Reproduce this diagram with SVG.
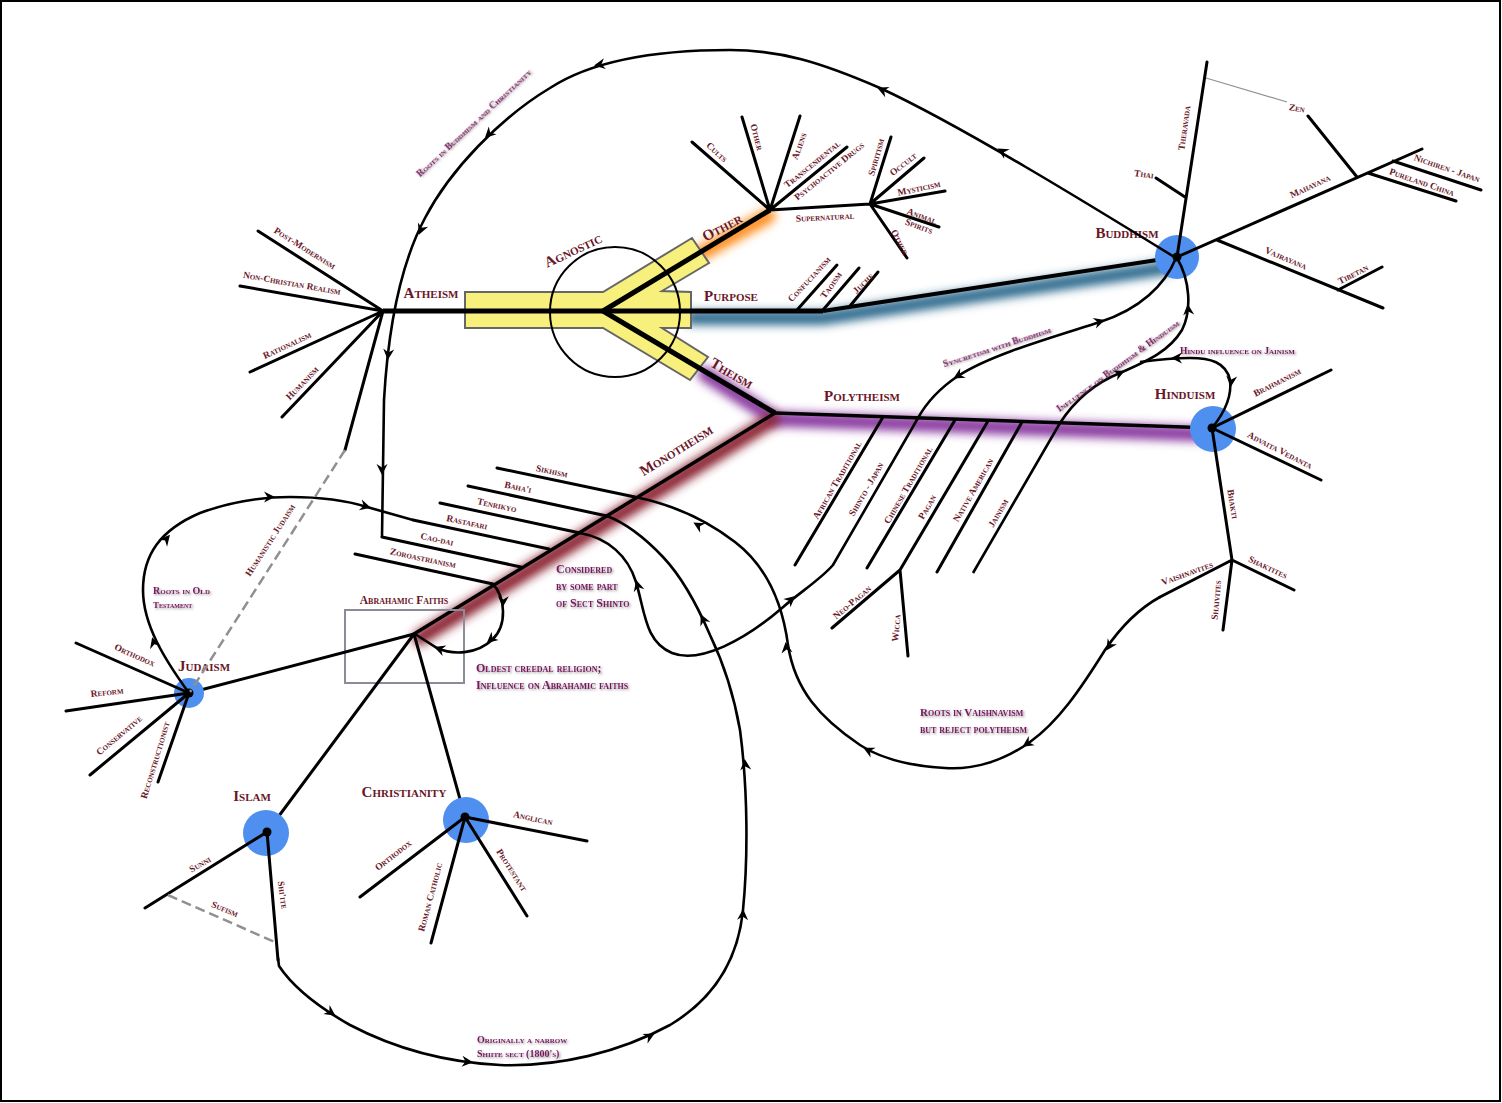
<svg xmlns="http://www.w3.org/2000/svg" width="1502" height="1103" viewBox="0 0 1502 1103">
<defs>
<filter id="glow" x="-30%" y="-60%" width="160%" height="220%"><feGaussianBlur stdDeviation="5"/></filter>
<filter id="sh" x="-10%" y="-40%" width="120%" height="180%"><feDropShadow dx="1.3" dy="1.3" stdDeviation="0.9" flood-color="#444" flood-opacity="0.6"/></filter>
<path id="ah" d="M3,0 L-8,-5.5 L-4.5,0 L-8,5.5 Z"/>
</defs>
<style>
.b{fill:none;stroke:#000;stroke-width:3;stroke-linecap:round}
.t{fill:none;stroke:#000;stroke-width:5}
.c{fill:none;stroke:#000;stroke-width:2.6}
.d{fill:none;stroke:#909090;stroke-width:2.5;stroke-dasharray:10 5}
.g{fill:none;stroke:#909090;stroke-width:1.2}
.l{font-family:"Liberation Serif",serif;font-variant:small-caps;font-weight:bold;fill:#6a1628;font-size:9.5px;text-anchor:middle}
.m{font-size:15px}
.a{font-family:"Liberation Serif",serif;font-variant:small-caps;font-weight:bold;fill:#7a1460;font-size:10px;filter:url(#sh)}
.a12{font-size:12px}
.hub{fill:#4f8ff0}
.gl{fill:none;filter:url(#glow);stroke-linecap:round}
</style>
<rect x="0" y="0" width="1502" height="1103" fill="#fff"/>
<rect x="1" y="1" width="1499" height="1100" fill="none" stroke="#000" stroke-width="2"/>

<g id="glows">
<path class="gl" d="M388,314 L470,314" stroke="#5fe05f" stroke-width="14"/>
<path class="gl" d="M700,254 L768,216" stroke="#ff9020" stroke-width="15"/>
<path class="gl" d="M692,318 L823,318 L1165,268" stroke="#2d6a8e" stroke-width="14"/>
<path class="gl" d="M705,374 L775,419 L1200,434" stroke="#8a3aa0" stroke-width="15"/>
<path class="gl" d="M772,420 L420,638" stroke="#8c2535" stroke-width="15"/>
</g>

<g id="agnostic">
<polygon points="465,292 603,292 692,238 709,263 662,291 691,292 691,328 662,328 708,357 690,380 603,328 465,328" fill="#f8f07c" stroke="#666" stroke-width="2"/>
<circle cx="615" cy="312" r="65" fill="none" stroke="#000" stroke-width="2"/>
<text class="l m" transform="translate(573,250) rotate(-25)" dy=".35em">Agnostic</text>
</g>

<g id="trunk">
<path class="t" d="M383,311 L823,311"/>
<path class="t" d="M603,311 L770,210"/>
<path class="t" d="M603,311 L775,413"/>
</g>

<g id="atheism">
<path class="b" d="M383,311 L258,231 M383,311 L240,286 M383,311 L250,372 M383,311 L282,417 M383,311 L345,450"/>
<text class="l m" x="431" y="298">Atheism</text>
<text class="l" transform="translate(305,248) rotate(32)" dy=".35em">Post-Modernism</text>
<text class="l" transform="translate(292,283) rotate(10)" dy=".35em">Non-Christian Realism</text>
<text class="l" transform="translate(287,345) rotate(-25)" dy=".35em">Rationalism</text>
<text class="l" transform="translate(302,383) rotate(-46)" dy=".35em">Humanism</text>
</g>

<g id="other">
<path class="b" d="M770,210 L692,142 M770,210 L742,117 M770,210 L800,116 M770,210 L847,147 M770,210 L870,204 M870,204 L891,137 M870,204 L924,158 M870,204 L945,191 M870,204 L939,227 M870,204 L907,258"/>
<text class="l m" transform="translate(722,227) rotate(-28)" dy=".35em">Other</text>
<text class="l" transform="translate(717,152) rotate(42)" dy=".35em">Cults</text>
<text class="l" transform="translate(757,137) rotate(75)" dy=".35em">Other</text>
<text class="l" transform="translate(799,146) rotate(-70)" dy=".35em">Aliens</text>
<text class="l" transform="translate(812,164) rotate(-39)" dy=".35em">Transcendental</text>
<text class="l" transform="translate(829,171) rotate(-39)" dy=".35em">Psychoactive Drugs</text>
<text class="l" transform="translate(825,217) rotate(-3)" dy=".35em">Supernatural</text>
<text class="l" transform="translate(876,157) rotate(-74)" dy=".35em">Spiritism</text>
<text class="l" transform="translate(903,164) rotate(-38)" dy=".35em">Occult</text>
<text class="l" transform="translate(919,188) rotate(-12)" dy=".35em">Mysticism</text>
<text class="l" transform="translate(922,216) rotate(20)" dy=".35em">Animal</text>
<text class="l" transform="translate(919,226) rotate(20)" dy=".35em">Spirits</text>
<text class="l" transform="translate(900,242) rotate(63)" dy=".35em">Other</text>
</g>

<g id="purpose">
<path class="t" d="M823,311 L1177,257" style="stroke-width:4"/>
<path class="b" d="M797,310 L837,265 M823,310 L859,268 M850,306 L878,272"/>
<text class="l m" x="731" y="301">Purpose</text>
<text class="l" transform="translate(809,279) rotate(-47)" dy=".35em">Confucianism</text>
<text class="l" transform="translate(831,285) rotate(-55)" dy=".35em">Taoism</text>
<text class="l" transform="translate(863,283) rotate(-45)" dy=".35em">Juche</text>
</g>

<g id="buddhism">
<circle class="hub" cx="1177" cy="257" r="22"/>
<path class="b" d="M1177,257 L1207,62 M1156,178 L1185,197 M1308,116 L1357,177 M1177,257 L1422,149 M1393,161 L1481,190 M1368,173 L1456,201 M1217,240 L1383,308 M1338,290 L1382,267"/>
<circle cx="1177" cy="257" r="4.5"/>
<text class="l m" x="1127" y="238">Buddhism</text>
<text class="l" transform="translate(1184,128) rotate(-82)" dy=".35em">Theravada</text>
<text class="l" transform="translate(1144,174) rotate(8)" dy=".35em">Thai</text>
<text class="l" transform="translate(1297,108) rotate(10)" dy=".35em">Zen</text>
<text class="l" transform="translate(1310,186) rotate(-25)" dy=".35em">Mahayana</text>
<text class="l" transform="translate(1447,168) rotate(19)" dy=".35em">Nichiren - Japan</text>
<text class="l" transform="translate(1422,182) rotate(19)" dy=".35em">Pureland China</text>
<text class="l" transform="translate(1286,258) rotate(23)" dy=".35em">Vajrayana</text>
<text class="l" transform="translate(1353,274) rotate(-27)" dy=".35em">Tibetan</text>
</g>

<g id="polytheism">
<path class="b" d="M775,413 L1212,428" style="stroke-width:3.5"/>
<path class="b" d="M883,417 L795,565 M955,420 L867,568 M988,421 L900,570 M1022,422 L937,572 M900,570 L832,628 M900,570 L908,656"/>
<text class="l m" x="862" y="401">Polytheism</text>
<text class="l" transform="translate(837,480) rotate(-60)" dy=".35em">African Traditional</text>
<text class="l" transform="translate(866,489) rotate(-60)" dy=".35em">Shinto - Japan</text>
<text class="l" transform="translate(908,485) rotate(-60)" dy=".35em">Chinese Traditional</text>
<text class="l" transform="translate(927,507) rotate(-60)" dy=".35em">Pagan</text>
<text class="l" transform="translate(973,490) rotate(-60)" dy=".35em">Native American</text>
<text class="l" transform="translate(998,513) rotate(-60)" dy=".35em">Jainism</text>
<text class="l" transform="translate(852,602) rotate(-40)" dy=".35em">Neo-Pagan</text>
<text class="l" transform="translate(896,628) rotate(-85)" dy=".35em">Wicca</text>
</g>

<g id="theism">
<text class="l m" transform="translate(732,373) rotate(30)" dy=".35em">Theism</text>
</g>

<g id="hinduism">
<circle class="hub" cx="1213" cy="429" r="23"/>
<path class="b" d="M1212,428 L1331,370 M1212,428 L1321,480 M1212,428 L1232,560 M1232,560 L1294,590 M1232,560 L1223,630 M1232,560 L1160,597"/>
<circle cx="1212" cy="428" r="4.5"/>
<text class="l m" x="1185" y="399">Hinduism</text>
<text class="l" transform="translate(1277,382) rotate(-27)" dy=".35em">Brahmanism</text>
<text class="l" transform="translate(1280,450) rotate(27)" dy=".35em">Advaita Vedanta</text>
<text class="l" transform="translate(1233,504) rotate(80)" dy=".35em">Bhakti</text>
<text class="l" transform="translate(1268,567) rotate(25)" dy=".35em">Shaktites</text>
<text class="l" transform="translate(1216,600) rotate(-85)" dy=".35em">Shaivites</text>
<text class="l" transform="translate(1187,573) rotate(-20)" dy=".35em">Vaishnavites</text>
</g>

<g id="monotheism">
<path class="b" d="M775,413 L414,634" style="stroke-width:3.5"/>
<path class="b" d="M497,468 L635,497 M468,486 L607,516 M440,503 L580,533 M413,520 L549,549 M382,537 L521,567 M355,554 L493,584"/>
<text class="l m" transform="translate(676,450) rotate(-32)" dy=".35em">Monotheism</text>
<text class="l" transform="translate(552,471) rotate(12)" dy=".35em">Sikhism</text>
<text class="l" transform="translate(518,487) rotate(12)" dy=".35em">Baha'i</text>
<text class="l" transform="translate(497,505) rotate(12)" dy=".35em">Tenrikyo</text>
<text class="l" transform="translate(467,522) rotate(12)" dy=".35em">Rastafari</text>
<text class="l" transform="translate(437,539) rotate(12)" dy=".35em">Cao-dai</text>
<text class="l" transform="translate(423,558) rotate(12)" dy=".35em">Zoroastrianism</text>
</g>

<g id="abrahamic">
<rect x="345" y="610" width="119" height="73" fill="none" stroke="#8c8c99" stroke-width="2"/>
<text class="l" x="404" y="604" style="font-size:11.5px">Abrahamic Faiths</text>
<path class="b" d="M414,634 L189,693 M414,634 L267,832 M414,634 L465,817"/>
</g>

<g id="judaism">
<circle class="hub" cx="189" cy="693" r="15"/>
<path class="b" d="M189,693 L76,643 M189,693 L66,711 M189,693 L90,775 M189,693 L158,782"/>
<circle cx="189" cy="693" r="4.5"/>
<text class="l m" x="204" y="671">Judaism</text>
<text class="l" transform="translate(135,655) rotate(24)" dy=".35em">Orthodox</text>
<text class="l" transform="translate(107,692) rotate(-6)" dy=".35em">Reform</text>
<text class="l" transform="translate(119,735) rotate(-40)" dy=".35em">Conservative</text>
<text class="l" transform="translate(155,760) rotate(-73)" dy=".35em">Reconstructionist</text>
<text class="l" transform="translate(270,540) rotate(-57)" dy=".35em">Humanistic Judaism</text>
</g>

<g id="islam">
<circle class="hub" cx="266" cy="833" r="23"/>
<path class="b" d="M267,832 L145,908 M267,832 L278,960"/>
<circle cx="267" cy="832" r="4.5"/>
<text class="l m" x="252" y="801">Islam</text>
<text class="l" transform="translate(200,864) rotate(-30)" dy=".35em">Sunni</text>
<text class="l" transform="translate(283,895) rotate(82)" dy=".35em">Shi'ite</text>
<text class="l" transform="translate(225,909) rotate(22)" dy=".35em">Sufism</text>
</g>

<g id="christianity">
<circle class="hub" cx="466" cy="820" r="23"/>
<path class="b" d="M465,817 L587,841 M465,817 L527,916 M465,817 L431,943 M465,817 L360,897"/>
<circle cx="465" cy="817" r="4.5"/>
<text class="l m" x="404" y="797">Christianity</text>
<text class="l" transform="translate(533,818) rotate(12)" dy=".35em">Anglican</text>
<text class="l" transform="translate(512,870) rotate(57)" dy=".35em">Protestant</text>
<text class="l" transform="translate(430,897) rotate(-75)" dy=".35em">Roman Catholic</text>
<text class="l" transform="translate(393,855) rotate(-38)" dy=".35em">Orthodox</text>
</g>

<g id="connectors">
<path class="d" d="M345,450 L190,692"/>
<path class="d" d="M168,895 L277,943"/>
<path class="g" d="M1206,78 L1287,102"/>
<path class="c" d="M1176,258 C1090,205 960,125 880,88 C820,62 780,50 730,50 C650,50 590,62 550,88 C500,118 450,170 425,218 C400,265 388,330 384,400 L382,537"/>
<path class="c" d="M189,693 C165,660 143,625 143,590 C143,555 160,530 200,513 C230,502 260,497 290,497 C320,497 345,500 367,507 L413,520"/>
<path class="c" d="M493,584 C505,597 508,625 492,640 C478,653 455,656 437,648 L415,634"/>
<path class="c" d="M278,958 L279,966 C295,990 320,1008 350,1025 C390,1046 440,1062 500,1065 C560,1067 620,1052 670,1025 C715,998 738,960 743,910 C748,860 748,790 740,730 C733,690 722,660 710,635 C695,600 680,575 663,557 C645,538 628,524 607,516"/>
<path class="c" d="M1160,597 C1140,608 1122,625 1105,650 C1080,690 1058,722 1030,742 C1005,760 975,770 945,768 C910,766 880,758 860,745 C820,718 795,690 788,645 C782,600 765,565 735,542 C700,515 665,503 635,497"/>
<path class="c" d="M580,533 C608,538 628,556 636,582 C645,612 645,642 672,653 C700,664 745,640 782,608 C800,592 820,580 833,565 L918,418 C928,400 940,388 958,376 C990,355 1050,338 1100,322 C1140,309 1165,285 1176,258"/>
<path class="c" d="M973,573 L1060,423 C1075,400 1095,383 1120,373 C1150,360 1170,350 1182,330 C1192,310 1190,280 1177,258"/>
<path class="c" d="M1212,428 C1225,412 1232,395 1230,380 C1226,362 1210,358 1190,358 C1170,358 1155,360 1140,362"/>
<use href="#ah" transform="translate(1000,150) rotate(210)"/>
<use href="#ah" transform="translate(880,89) rotate(203)"/>
<use href="#ah" transform="translate(597,65) rotate(170)"/>
<use href="#ah" transform="translate(487,136) rotate(135)"/>
<use href="#ah" transform="translate(420,232) rotate(112)"/>
<use href="#ah" transform="translate(388,357) rotate(95)"/>
<use href="#ah" transform="translate(382,472) rotate(90)"/>
<use href="#ah" transform="translate(153,640) rotate(253)"/>
<use href="#ah" transform="translate(168,537) rotate(310)"/>
<use href="#ah" transform="translate(272,497) rotate(0)"/>
<use href="#ah" transform="translate(368,507) rotate(15)"/>
<use href="#ah" transform="translate(503,604) rotate(92)"/>
<use href="#ah" transform="translate(489,641) rotate(140)"/>
<use href="#ah" transform="translate(437,648) rotate(200)"/>
<use href="#ah" transform="translate(333,1014) rotate(35)"/>
<use href="#ah" transform="translate(470,1062) rotate(5)"/>
<use href="#ah" transform="translate(652,1035) rotate(-28)"/>
<use href="#ah" transform="translate(743,912) rotate(-87)"/>
<use href="#ah" transform="translate(745,762) rotate(-95)"/>
<use href="#ah" transform="translate(702,617) rotate(-115)"/>
<use href="#ah" transform="translate(696,524) rotate(-150)"/>
<use href="#ah" transform="translate(1108,648) rotate(123)"/>
<use href="#ah" transform="translate(1025,745) rotate(147)"/>
<use href="#ah" transform="translate(866,749) rotate(207)"/>
<use href="#ah" transform="translate(786,645) rotate(263)"/>
<use href="#ah" transform="translate(637,583) rotate(255)"/>
<use href="#ah" transform="translate(793,598) rotate(-40)"/>
<use href="#ah" transform="translate(956,377) rotate(150)"/>
<use href="#ah" transform="translate(1102,321) rotate(-17)"/>
<use href="#ah" transform="translate(1122,372) rotate(-25)"/>
<use href="#ah" transform="translate(1188,307) rotate(-95)"/>
<use href="#ah" transform="translate(1174,358) rotate(180)"/>
<use href="#ah" transform="translate(1231,384) rotate(95)"/>
</g>

<g id="annotations">
<text class="a" transform="translate(474,123) rotate(-43)" text-anchor="middle" dy=".35em" style="font-size:9.5px">Roots in Buddhism and Christianity</text>
<text class="a" x="153" y="594" style="font-size:10px">Roots in Old</text>
<text class="a" x="153" y="608" style="font-size:9px">Testament</text>
<text class="a a12" x="556" y="573">Considered</text>
<text class="a a12" x="556" y="590">by some part</text>
<text class="a a12" x="556" y="607">of Sect Shinto</text>
<text class="a a12" x="476" y="672">Oldest creedal religion;</text>
<text class="a a12" x="476" y="689">Influence on Abrahamic faiths</text>
<text class="a" transform="translate(997,347) rotate(-18)" text-anchor="middle" dy=".35em" style="font-size:9.5px">Syncretism with Buddhism</text>
<text class="a" transform="translate(1118,366) rotate(-36)" text-anchor="middle" dy=".35em" style="font-size:9.5px">Influence on Buddhism &amp; Hinduism</text>
<text class="a" x="1180" y="354" style="font-size:9.5px">Hindu influence on Jainism</text>
<text class="a" x="920" y="716" style="font-size:11px">Roots in Vaishnavism</text>
<text class="a" x="920" y="733" style="font-size:11px">but reject polytheism</text>
<text class="a" x="477" y="1043" style="font-size:10px">Originally a narrow</text>
<text class="a" x="477" y="1057" style="font-size:10px">Shiite sect (1800's)</text>
</g>
</svg>
